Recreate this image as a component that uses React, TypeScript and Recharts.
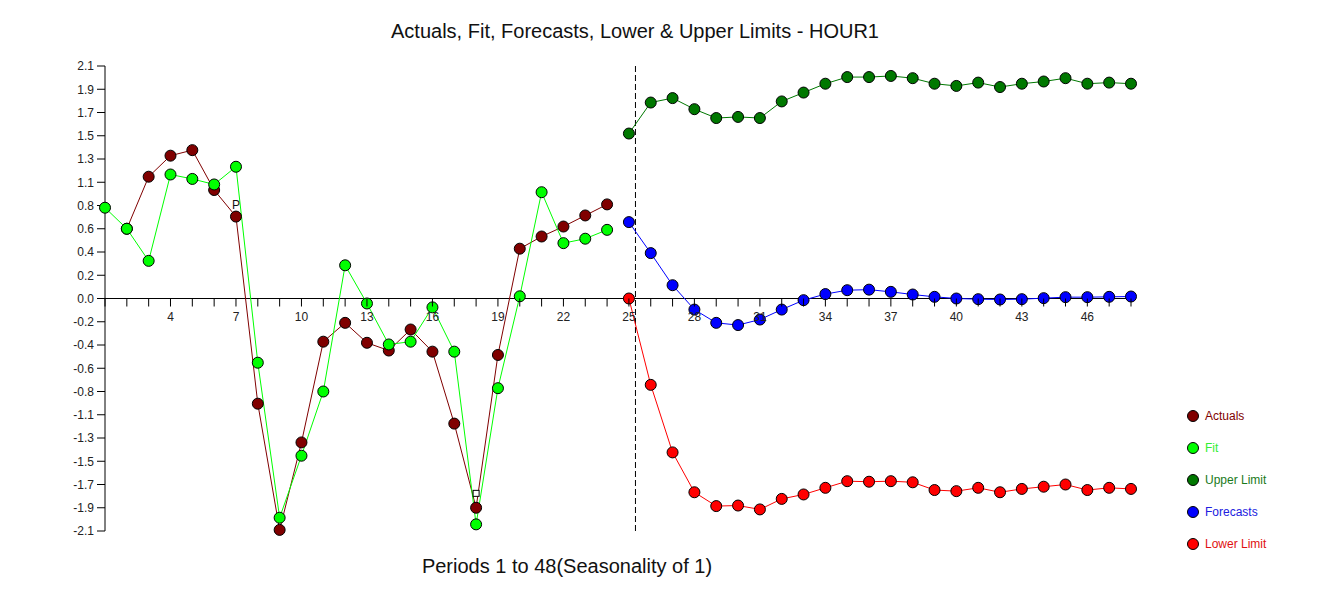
import { Line, LineChart, ReferenceDot, ReferenceLine, XAxis, YAxis } from 'recharts';

// values, one entry per period (1..48)
const actuals = [
  null, 0.63, 1.10, 1.29, 1.34, 0.98, 0.74, -0.95, -2.09, -1.30, -0.39, -0.22,
  -0.40, -0.47, -0.28, -0.48, -1.13, -1.89, -0.51, 0.45, 0.56, 0.65, 0.75, 0.85,
  null, null, null, null, null, null, null, null, null, null, null, null,
  null, null, null, null, null, null, null, null, null, null, null, null,
];
const fit = [
  0.82, 0.63, 0.34, 1.12, 1.08, 1.03, 1.19, -0.58, -1.98, -1.42, -0.84, 0.30,
  -0.045, -0.415, -0.39, -0.08, -0.48, -2.04, -0.81, 0.02, 0.96, 0.50, 0.54, 0.62,
  null, null, null, null, null, null, null, null, null, null, null, null,
  null, null, null, null, null, null, null, null, null, null, null, null,
];
const upperLimit = [
  null, null, null, null, null, null, null, null, null, null, null, null,
  null, null, null, null, null, null, null, null, null, null, null, null,
  1.49, 1.77, 1.81, 1.71, 1.63, 1.64, 1.63, 1.78, 1.86, 1.94, 2.0, 2.0,
  2.01, 1.99, 1.94, 1.92, 1.95, 1.91, 1.94, 1.96, 1.99, 1.94, 1.95, 1.94,
];
const forecasts = [
  null, null, null, null, null, null, null, null, null, null, null, null,
  null, null, null, null, null, null, null, null, null, null, null, null,
  0.69, 0.41, 0.12, -0.10, -0.22, -0.24, -0.19, -0.10, -0.015, 0.04, 0.075, 0.08,
  0.06, 0.036, 0.015, 0.0, -0.006, -0.009, -0.006, 0.003, 0.012, 0.012, 0.015, 0.018,
];
const lowerLimit = [
  null, null, null, null, null, null, null, null, null, null, null, null,
  null, null, null, null, null, null, null, null, null, null, null, null,
  0.0, -0.78, -1.39, -1.75, -1.875, -1.87, -1.905, -1.81, -1.77, -1.71, -1.65, -1.655,
  -1.65, -1.66, -1.73, -1.74, -1.71, -1.75, -1.72, -1.70, -1.68, -1.73, -1.71, -1.72,
];

const xTickLabels = [4, 7, 10, 13, 16, 19, 22, 25, 28, 31, 34, 37, 40, 43, 46];
const yTicks = [
  -2.1, -1.89, -1.68, -1.47, -1.26, -1.05, -0.84, -0.63, -0.42, -0.21, 0,
  0.21, 0.42, 0.63, 0.84, 1.05, 1.26, 1.47, 1.68, 1.89, 2.1,
];
const yTickLabels = [
  '-2.1', '-1.9', '-1.7', '-1.5', '-1.3', '-1.1', '-0.8', '-0.6', '-0.4', '-0.2', '0.0',
  '0.2', '0.4', '0.6', '0.8', '1.1', '1.3', '1.5', '1.7', '1.9', '2.1',
];
const forecastOrigin = 25.3;
const flags = [
  { period: 7, value: 0.85, kind: 'P' },
  { period: 18, value: -1.76, kind: 'box' },
];

const series = [
  { key: 'actual', name: 'Actuals', color: '#800000', text: '#800000' },
  { key: 'fit', name: 'Fit', color: '#00ff00', text: '#33ee33' },
  { key: 'upper', name: 'Upper Limit', color: '#007800', text: '#1a7a1a' },
  { key: 'forecast', name: 'Forecasts', color: '#0000ff', text: '#2020e0' },
  { key: 'lower', name: 'Lower Limit', color: '#ff0000', text: '#e01010' },
];

const rows = fit.map((_, i) => ({
  period: i + 1,
  actual: actuals[i],
  fit: fit[i],
  upper: upperLimit[i],
  forecast: forecasts[i],
  lower: lowerLimit[i],
}));
const periods = rows.map((r) => r.period);

const W = 1340;
const H = 598;
const X_AXIS_H = 30;
const M = { top: 66, right: 209, bottom: 67 - X_AXIS_H, left: 45 };
const ZERO_Y = M.top + (H - M.top - M.bottom - X_AXIS_H) / 2;
const FONT = '"Liberation Sans", Arial, sans-serif';

// x axis sits on the zero line, so its ticks are drawn there
const renderPeriodTick = (props: any) => {
  const { x, payload } = props;
  return (
    <g>
      <line x1={x} x2={x} y1={ZERO_Y} y2={ZERO_Y + 8} stroke="#000" />
      {xTickLabels.includes(payload.value) && (
        <text x={x} y={ZERO_Y + 22} textAnchor="middle" fontSize={12} fill="#222" fontFamily={FONT}>
          {payload.value}
        </text>
      )}
    </g>
  );
};

const FlagShape = (props: any) => {
  const { cx, cy, kind } = props;
  if (kind === 'box') {
    return <rect x={cx - 3} y={cy - 3} width={6} height={6} fill="#fff" stroke="#000" strokeWidth={1} />;
  }
  return (
    <text x={cx} y={cy + 5} textAnchor="middle" fontSize={12} fill="#111" fontFamily={FONT}>
      P
    </text>
  );
};

const App = () => {
  return (
    <div style={{ position: 'absolute', left: 0, top: 0, width: W, height: H, background: '#fff', fontFamily: FONT }}>
      <div style={{ position: 'absolute', left: 0, width: 1270, top: 20, textAlign: 'center', fontSize: 20, color: '#111' }}>
        Actuals, Fit, Forecasts, Lower &amp; Upper Limits - HOUR1
      </div>
      <LineChart width={W} height={H} data={rows} margin={M}>
        <XAxis
          dataKey="period"
          type="number"
          domain={[1, 48]}
          ticks={periods}
          interval={0}
          height={X_AXIS_H}
          axisLine={false}
          tickLine={false}
          tick={renderPeriodTick}
        />
        <YAxis
          type="number"
          domain={[-2.1, 2.1]}
          ticks={yTicks}
          interval={0}
          width={60}
          tickSize={8}
          tickMargin={3}
          stroke="#000"
          tick={{ fill: '#222', fontSize: 12, fontFamily: FONT }}
          tickFormatter={(v: number) => yTickLabels[yTicks.indexOf(v)] ?? ''}
        />
        <ReferenceLine y={0} stroke="#000" />
        <ReferenceLine x={forecastOrigin} stroke="#000" strokeDasharray="6 3" />
        {series.map((s) => (
          <Line
            key={s.key}
            dataKey={s.key}
            name={s.name}
            stroke={s.color}
            strokeWidth={1}
            dot={{ r: 5.5, fill: s.color, stroke: '#000', strokeWidth: 1 }}
            activeDot={false}
            isAnimationActive={false}
          />
        ))}
        {flags.map((f) => (
          <ReferenceDot
            key={f.period}
            x={f.period}
            y={f.value}
            r={0}
            shape={(p: any) => <FlagShape {...p} kind={f.kind} />}
          />
        ))}
      </LineChart>
      <div style={{ position: 'absolute', left: 0, width: 1134, top: 555, textAlign: 'center', fontSize: 20, color: '#111' }}>
        Periods 1 to 48(Seasonality of 1)
      </div>
      <svg style={{ position: 'absolute', left: 1180, top: 400 }} width={140} height={160}>
        {series.map((s, i) => (
          <g key={s.key}>
            <circle cx={13} cy={16 + i * 32} r={5.5} fill={s.color} stroke="#000" />
            <text x={25} y={20 + i * 32} fontSize={12} fill={s.text} fontFamily={FONT}>
              {s.name}
            </text>
          </g>
        ))}
      </svg>
    </div>
  );
};

export default App;
